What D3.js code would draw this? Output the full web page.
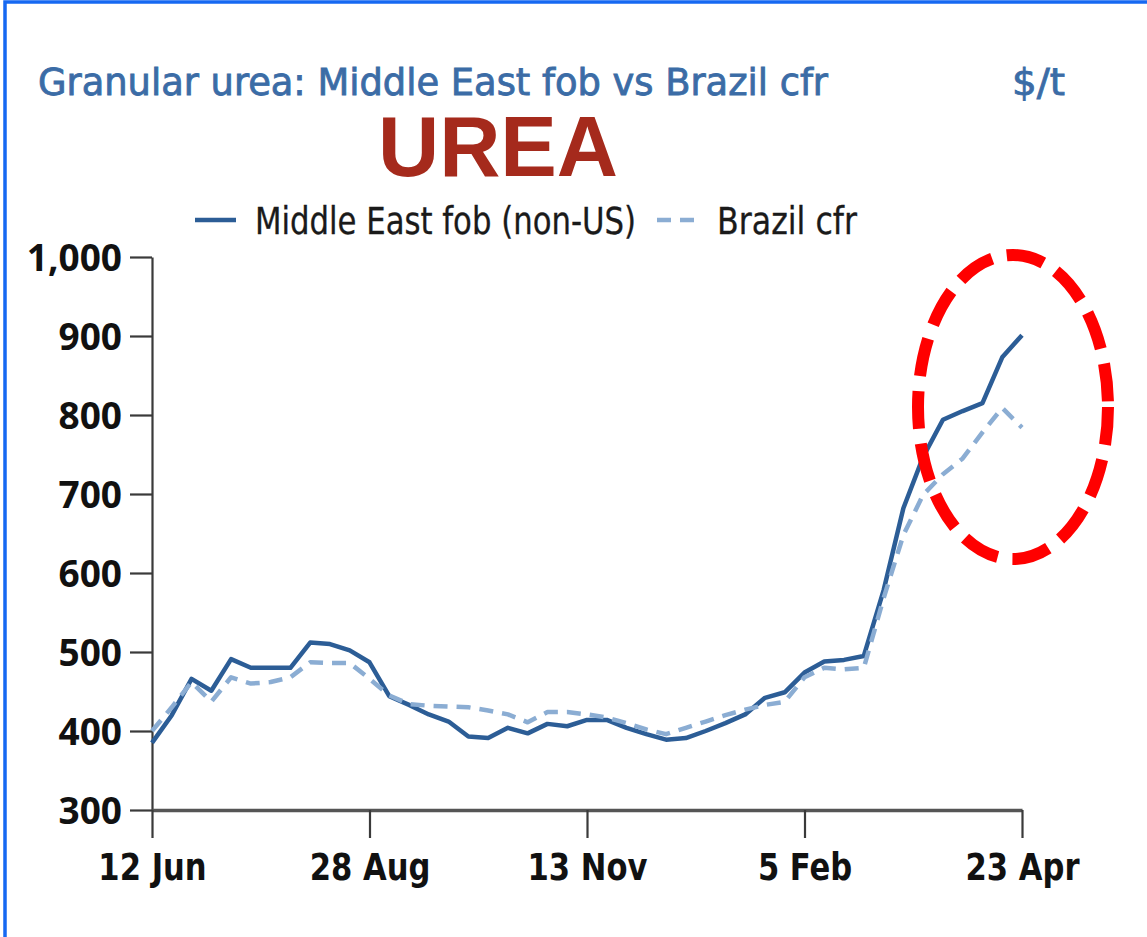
<!DOCTYPE html>
<html>
<head>
<meta charset="utf-8">
<script src="https://cdn.jsdelivr.net/npm/d3@7"></script>
<style>
  html, body { margin: 0; padding: 0; background: #fff; }
  svg { display: block; }
</style>
</head>
<body>
<svg id="chart" width="1147" height="937"></svg>
<script>
// ---- data ----
const dates = ["12 Jun","19 Jun","26 Jun","3 Jul","10 Jul","17 Jul","24 Jul","31 Jul","7 Aug","14 Aug","21 Aug","28 Aug",
  "4 Sep","11 Sep","18 Sep","25 Sep","2 Oct","9 Oct","16 Oct","23 Oct","30 Oct","6 Nov","13 Nov","20 Nov","27 Nov",
  "4 Dec","11 Dec","18 Dec","1 Jan","8 Jan","15 Jan","22 Jan","29 Jan","5 Feb","12 Feb","19 Feb","26 Feb",
  "5 Mar","12 Mar","19 Mar","26 Mar","2 Apr","9 Apr","16 Apr","23 Apr"];
const middleEastFob = [385,420,466,451,491,480,480,480,512,510,502,487,444,433,421,412,393,391,404,397,409,406,414,414,
  404,396,389,391,400,410,421,442,449,474,488,490,495,578,682,747,794,805,815,873,901];
const brazilCfr = [400,430,462,437,468,460,462,468,487,486,486,466,445,434,432,431,430,426,421,411,424,424,421,417,
  410,402,396,404,412,420,427,433,437,468,480,478,480,568,648,699,725,745,778,809,784];
const xTickLabels = ["12 Jun","28 Aug","13 Nov","5 Feb","23 Apr"];
const yTickValues = [300,400,500,600,700,800,900,1000];
const seriesNames = ["Middle East fob (non-US)","Brazil cfr"];

// ---- drawing ----
const svg = d3.select("#chart");
const solidColor = "#2c5d96";
const dashColor = "#8badd3";
const axisColor = "#3a3a3a";
const condFont = "'DejaVu Sans Condensed', 'DejaVu Sans', sans-serif";

// squeeze text horizontally to emulate a condensed face
function squeeze(sel, factor) {
  sel.each(function () {
    const w = this.getComputedTextLength();
    d3.select(this).attr("textLength", w * factor).attr("lengthAdjust", "spacingAndGlyphs");
  });
}

// blue frame (left and top edges)
svg.append("rect").attr("x", 5).attr("y", 2).attr("width", 1300).attr("height", 1100)
  .attr("fill", "none").attr("stroke", "#1668f2").attr("stroke-width", 3.5);

const x = d3.scalePoint().domain(dates).range([152, 1022]);
const y = d3.scaleLinear().domain([300, 1000]).range([810, 257]);

// title
svg.append("text").attr("x", 38).attr("y", 95)
  .attr("font-family", condFont)
  .attr("font-size", 38).attr("fill", "#3b6ca6")
  .attr("stroke", "#3b6ca6").attr("stroke-width", 0.8)
  .attr("textLength", 790).attr("lengthAdjust", "spacingAndGlyphs")
  .text("Granular urea: Middle East fob vs Brazil cfr");
svg.append("text").attr("x", 1012).attr("y", 95)
  .attr("font-family", condFont)
  .attr("font-size", 38).attr("fill", "#3b6ca6")
  .attr("stroke", "#3b6ca6").attr("stroke-width", 0.8)
  .attr("textLength", 53).attr("lengthAdjust", "spacingAndGlyphs")
  .text("$/t");

// UREA
svg.append("text").attr("x", 378).attr("y", 176)
  .attr("font-family", "'Liberation Sans', Arial, sans-serif")
  .attr("font-weight", "bold").attr("font-size", 86).attr("fill", "#a52a1c")
  .attr("textLength", 240).attr("lengthAdjust", "spacingAndGlyphs")
  .text("UREA");

// legend
const legY = 220;
svg.append("line").attr("x1", 195).attr("x2", 236).attr("y1", legY).attr("y2", legY)
  .attr("stroke", solidColor).attr("stroke-width", 4.5);
svg.append("text").attr("x", 255).attr("y", legY + 14)
  .attr("font-family", condFont)
  .attr("font-size", 37).attr("fill", "#1a1a1a")
  .attr("stroke", "#1a1a1a").attr("stroke-width", 0.3)
  .attr("textLength", 381).attr("lengthAdjust", "spacingAndGlyphs")
  .text(seriesNames[0]);
svg.append("line").attr("x1", 657).attr("x2", 700).attr("y1", legY).attr("y2", legY)
  .attr("stroke", dashColor).attr("stroke-width", 4.5).attr("stroke-dasharray", "14,9");
svg.append("text").attr("x", 717).attr("y", legY + 14)
  .attr("font-family", condFont)
  .attr("font-size", 37).attr("fill", "#1a1a1a")
  .attr("stroke", "#1a1a1a").attr("stroke-width", 0.3)
  .attr("textLength", 140).attr("lengthAdjust", "spacingAndGlyphs")
  .text(seriesNames[1]);

// y axis
const yAxis = d3.axisLeft(y).tickValues(yTickValues).tickSize(22).tickSizeOuter(0)
  .tickPadding(8).tickFormat(d3.format(","));
const gy = svg.append("g").attr("transform", "translate(152,0)").call(yAxis);
gy.select(".domain").attr("stroke", axisColor).attr("stroke-width", 2.2);
gy.selectAll(".tick line").attr("stroke", axisColor).attr("stroke-width", 2.2);
gy.selectAll(".tick text").attr("font-family", "'Open Sans', sans-serif")
  .attr("font-weight", 700).attr("font-size", 37).attr("fill", "#111")
  .attr("dy", "0.36em");

// x axis
const xAxis = d3.axisBottom(x).tickValues(xTickLabels).tickSize(28).tickSizeOuter(0).tickPadding(16);
const gx = svg.append("g").attr("transform", "translate(0,810)").call(xAxis);
gx.select(".domain").attr("stroke", "#555").attr("stroke-width", 3.5);
gx.selectAll(".tick line").attr("stroke", axisColor).attr("stroke-width", 2.2);
const xt = gx.selectAll(".tick text").attr("font-family", condFont)
  .attr("font-weight", "bold").attr("font-size", 37).attr("fill", "#111");
squeeze(xt, 0.92);

// lines
const lineGen = vals => d3.line().x((d, i) => x(dates[i])).y(d => y(d))(vals);
svg.append("path").attr("d", lineGen(middleEastFob))
  .attr("fill", "none").attr("stroke", solidColor).attr("stroke-width", 4.5)
  .attr("stroke-linejoin", "round");
svg.append("path").attr("d", lineGen(brazilCfr))
  .attr("fill", "none").attr("stroke", dashColor).attr("stroke-width", 4.5)
  .attr("stroke-dasharray", "14,9").attr("stroke-linejoin", "round");

// red dashed ellipse annotation
svg.append("ellipse").attr("cx", 1013).attr("cy", 407).attr("rx", 95).attr("ry", 152)
  .attr("fill", "none").attr("stroke", "#ff0000").attr("stroke-width", 12)
  .attr("stroke-dasharray", "38,15");
</script>
</body>
</html>
